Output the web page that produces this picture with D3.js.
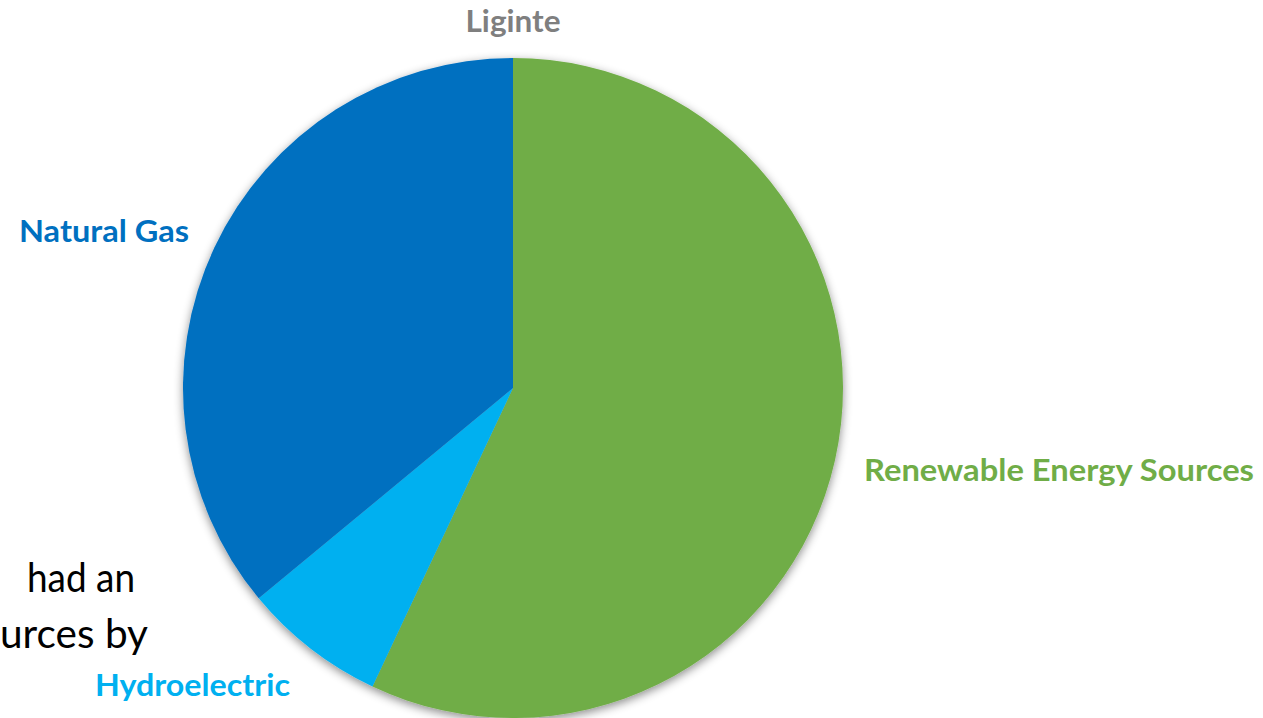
<!DOCTYPE html>
<html>
<head>
<meta charset="utf-8">
<script src="https://cdn.jsdelivr.net/npm/d3@7"></script>
<style>
  html, body { margin: 0; padding: 0; background: #ffffff; }
  svg { display: block; }
</style>
</head>
<body>
<script>
// ---- data ----
const categories = ["Liginte", "Renewable Energy Sources", "Hydroelectric", "Natural Gas"];
const values = [0, 57, 7, 36];
const colors = ["#7F7F7F", "#70AD47", "#00B0F0", "#0070C0"];

// background slide text (partially hidden behind the chart)
const bgLines = ["had an", "urces by"];

// ---- layout ----
const W = 1263, H = 718;
const cx = 513, cy = 388, R = 330;
// label anchor positions (text layout)
const labelLayout = [
  { x: 513, y: 32, anchor: "middle", len: 95 },
  { x: 864, y: 481, anchor: "start", len: 390 },
  { x: 95, y: 696, anchor: "start", len: 195 },
  { x: 19, y: 242, anchor: "start", len: 170 }
];

const svg = d3.select("body").append("svg")
  .attr("width", W).attr("height", H);

const defs = svg.append("defs");
const f = defs.append("filter").attr("id", "shadow")
  .attr("x", "-10%").attr("y", "-10%").attr("width", "120%").attr("height", "120%");
f.append("feDropShadow")
  .attr("dx", 0).attr("dy", 3)
  .attr("stdDeviation", 5)
  .attr("flood-color", "#000")
  .attr("flood-opacity", 0.45);

// background text
svg.append("g").selectAll("text")
  .data(bgLines)
  .join("text")
  .attr("x", (d, i) => i === 0 ? 27 : 0)
  .attr("y", (d, i) => 592 + i * 56)
  .attr("font-family", "Lato, 'Open Sans', sans-serif")
  .attr("font-size", 40)
  .attr("fill", "#000")
  .attr("textLength", (d, i) => i === 0 ? 108 : 148)
  .attr("lengthAdjust", "spacingAndGlyphs")
  .text(d => d);

const pie = d3.pie().sort(null).value(d => d)
  .startAngle(0).endAngle(2 * Math.PI);
const arcs = pie(values);
const arc = d3.arc().innerRadius(0).outerRadius(R);

const g = svg.append("g").attr("transform", `translate(${cx},${cy})`);
g.append("g").attr("filter", "url(#shadow)")
  .selectAll("path")
  .data(arcs)
  .join("path")
  .attr("d", arc)
  .attr("fill", (d, i) => colors[i]);

// labels
svg.append("g").selectAll("text")
  .data(categories)
  .join("text")
  .attr("x", (d, i) => labelLayout[i].x)
  .attr("y", (d, i) => labelLayout[i].y)
  .attr("text-anchor", (d, i) => labelLayout[i].anchor)
  .attr("font-family", "Lato, 'Open Sans', sans-serif")
  .attr("font-weight", "bold")
  .attr("font-size", 31)
  .attr("fill", (d, i) => colors[i])
  .attr("textLength", (d, i) => labelLayout[i].len)
  .attr("lengthAdjust", "spacingAndGlyphs")
  .text(d => d);
</script>
</body>
</html>
